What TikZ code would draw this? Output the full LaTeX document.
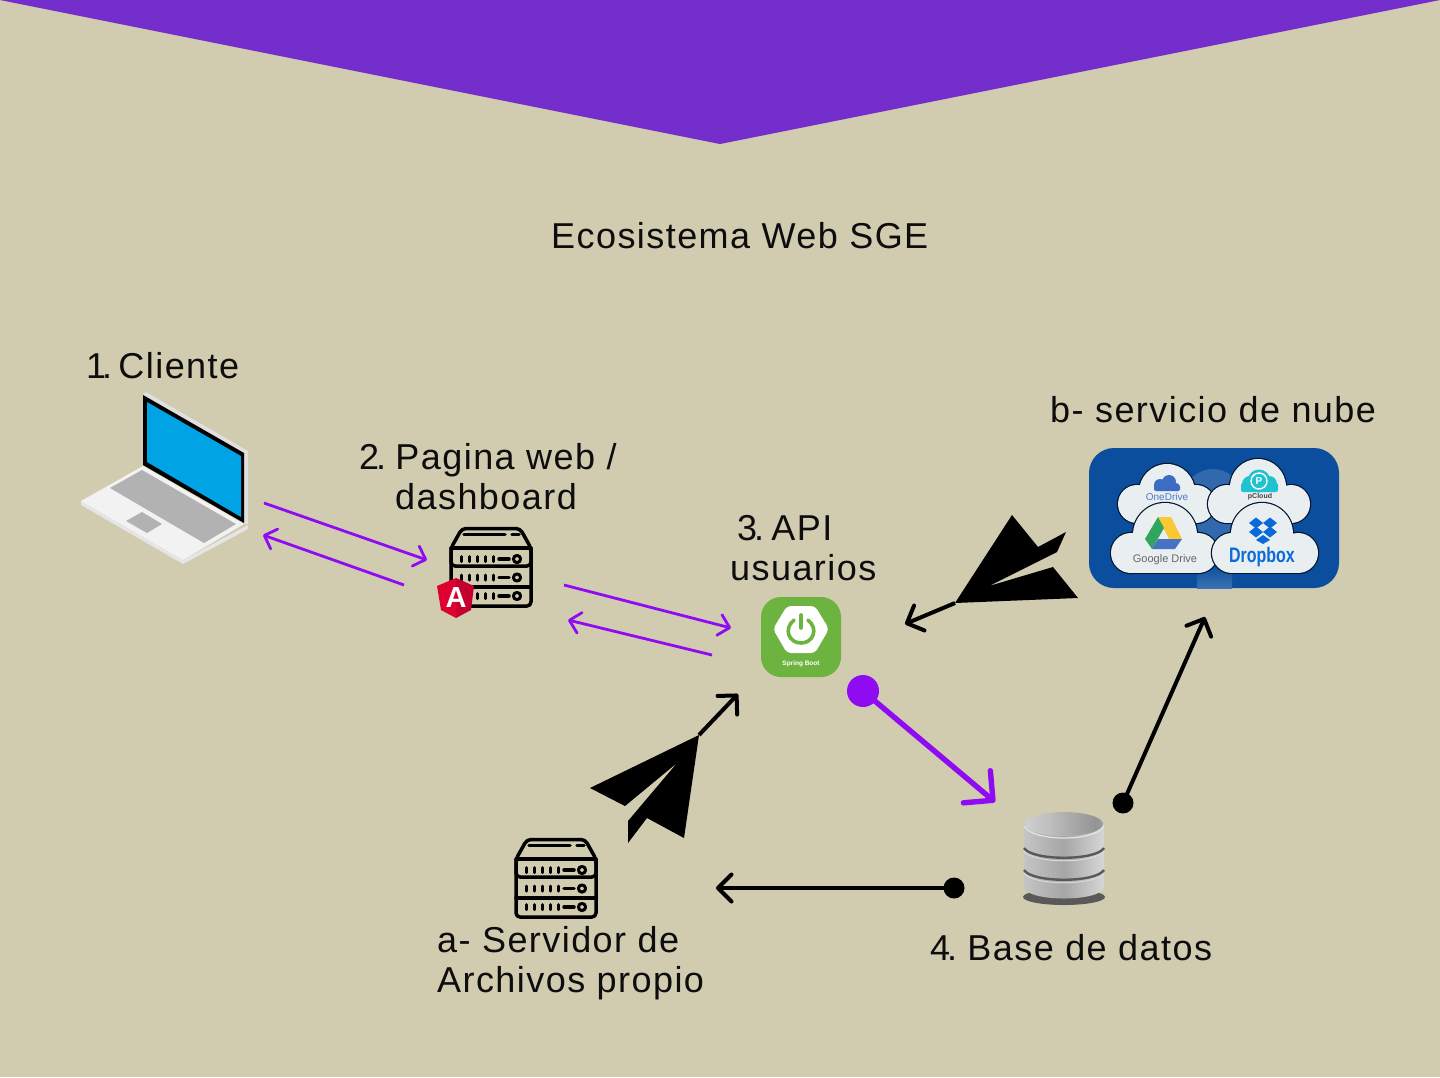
\documentclass[tikz,border=0pt]{standalone}
\usepackage{fontspec}
\usetikzlibrary{arrows.meta}
\setmainfont{Liberation Sans}
\newfontfamily\lab[LetterSpace=4]{Liberation Sans}
\newfontfamily\lsans{Liberation Sans}
\definecolor{bgc}{HTML}{D1CBB0}
\definecolor{topc}{HTML}{742ECC}
\definecolor{arrp}{HTML}{8F0CF2}
\definecolor{cloudw}{HTML}{E9EEF1}
\definecolor{panelb}{HTML}{0B4E9E}
\definecolor{springg}{HTML}{6DB33F}
\definecolor{screenb}{RGB}{0,163,228}
\definecolor{angl}{RGB}{221,0,49}
\definecolor{angr}{RGB}{195,0,47}
\definecolor{odblue}{RGB}{60,108,196}
\definecolor{odtext}{RGB}{78,120,200}
\definecolor{pcteal}{RGB}{31,195,207}
\definecolor{gdy}{RGB}{250,200,50}
\definecolor{gdg}{RGB}{48,165,95}
\definecolor{gdb}{RGB}{70,115,195}
\definecolor{dbx}{RGB}{10,106,216}
\pgfdeclarehorizontalshading{dbshade}{100bp}{color(0bp)=(black!12);color(15bp)=(black!18);color(50bp)=(black!35);color(80bp)=(black!12);color(90bp)=(black!6);color(100bp)=(black!25)}
\pgfdeclarehorizontalshading{dbtop}{100bp}{color(0bp)=(black!8);color(40bp)=(black!25);color(70bp)=(black!42);color(100bp)=(black!20)}
\pgfdeclarearrow{
  name=OpenVee,
  parameters={\the\pgfarrowlength,\the\pgfarrowwidth,\the\pgfarrowlinewidth},
  setup code={
    \pgfarrowssettipend{0.5\pgfarrowlinewidth}
    \pgfarrowssetlineend{-0.5\pgfarrowlinewidth}
    \pgfarrowssetbackend{-\pgfarrowlength}
    \pgfarrowssetvisualbackend{-\pgfarrowlength}
    \pgfarrowssavethe\pgfarrowlength
    \pgfarrowssavethe\pgfarrowwidth
    \pgfarrowssavethe\pgfarrowlinewidth
  },
  drawing code={
    \pgfsetdash{}{0pt}
    \pgfsetlinewidth{\pgfarrowlinewidth}
    \pgfsetroundcap
    \pgfsetroundjoin
    \pgfpathmoveto{\pgfqpoint{-\pgfarrowlength}{0.5\pgfarrowwidth}}
    \pgfpathlineto{\pgfqpoint{0pt}{0pt}}
    \pgfpathlineto{\pgfqpoint{-\pgfarrowlength}{-0.5\pgfarrowwidth}}
    \pgfusepathqstroke
  },
  defaults={length=10pt,width=20pt,line width=2pt}
}
\tikzset{
  x=1pt,y=-1pt,
  label/.style={inner sep=0pt,anchor=base west,font=\lab\fontsize{36}{40}\selectfont,text=black!95},
  thinarrow/.style={draw=arrp,line width=2.8pt,-{OpenVee[length=10.5pt,width=21pt,line width=2.8pt]}},
  thickarrow/.style={draw=arrp,line width=5.4pt,-{OpenVee[length=21pt,width=42pt,line width=5.4pt]}},
  blackarrow/.style={draw=black,line width=4pt,-{OpenVee[length=13.5pt,width=27pt,line width=4pt]}},
  planec/.style={fill=black,draw=none},
  srv/.style={draw=black,line width=3.5pt,line join=round,line cap=round,fill=none},
  dotb/.style={circle,fill=black,inner sep=0pt,minimum size=21pt},
  dotp/.style={circle,fill=arrp,inner sep=0pt,minimum size=32pt},
  cloudfill/.style={fill=cloudw,draw=none},
  cloudedge/.style={draw=black!70!panelb,line width=2.4pt},
  minilab/.style={inner sep=0pt,font=\lsans}
}
\newcommand{\servericon}[2]{%
\begin{scope}[shift={(#1,#2)}]
  \draw[srv,rounded corners=4pt] (0,21) -- (11,1.5) -- (69,1.5) -- (80,21) -- (80,39) -- (0,39) -- cycle;
  \draw[srv,rounded corners=4pt] (0,21) -- (0,79) -- (80,79) -- (80,21);
  \draw[srv] (0,21) -- (80,21) (0,60) -- (80,60);
  \draw[srv] (13,7.5) -- (54,7.5) (61,7.5) -- (68,7.5);
  \foreach \yy in {32,50.5,69}{
    \foreach \xx in {10,18,26,34,42}{\draw[srv,line width=3pt] (\xx,\yy-2.5) -- (\xx,\yy+2.5);}
    \draw[srv] (48,\yy) -- (58,\yy);
    \draw[srv,line width=3pt] (66,\yy) circle (3.6);
  }
\end{scope}}
\newcommand{\cloud}[9]{% top x,y,r ; left x,y,r ; right x,y,r
  \draw[cloudedge] (#1,#2) circle (#3) (#4,#5) circle (#6) (#7,#8) circle (#9);
  \draw[cloudedge] (#4,#5-5) rectangle (#7,#5+#6);
  \fill[cloudfill] (#1,#2) circle (#3) (#4,#5) circle (#6) (#7,#8) circle (#9);
  \fill[cloudfill] (#4,#5-5) rectangle (#7,#5+#6);
}
\begin{document}
\begin{tikzpicture}
\useasboundingbox (0,0) rectangle (1440,1077);
\fill[bgc] (0,0) rectangle (1440,1077);
\fill[topc] (0,0) -- (1440,0) -- (720,144) -- cycle;

\node[label] (title) at (551,248) {Ecosistema Web SGE};
\node[label] (lcliente) at (86,378) {1\hspace{-4pt}.\hspace{-9pt} Cliente};
\node[label] (lweb1) at (359,469) {2\hspace{-3pt}.\hspace{-6pt} Pagina web /};
\node[label] (lweb2) at (395,509) {dashboard};
\node[label] (lapi1) at (737,540) {3\hspace{-3pt}.\hspace{-8pt} API};
\node[label] (lapi2) at (730,580) {usuarios};
\node[label] (lnube) at (1050,422) {b- servicio de nube};
\node[label] (lsrv1) at (437,952) {a- Servidor de};
\node[label] (lsrv2) at (437,992) {Archivos propio};
\node[label] (lbase) at (930,960) {4\hspace{-3pt}.\hspace{-5pt} Base de datos};

% laptop
\fill[black!12] (143,394) -- (146,392) -- (248,451) -- (248,524) -- (244,524) -- cycle;
\fill[black] (143,395) -- (244,453) -- (244,523) -- (143,465) -- cycle;
\fill[screenb] (147,402) -- (241,456) -- (241,517) -- (147,462) -- cycle;
\fill[black!10] (81,501) -- (183,560) -- (248,525) -- (248,529) -- (183,564) -- (81,505) -- cycle;
\fill[black!5] (143,466) -- (244,524) -- (183,560) -- (81,501) -- cycle;
\fill[black!30] (142,470) -- (236,524) -- (204,543) -- (110,488) -- cycle;
\fill[black!30] (142,512) -- (162,524) -- (147,533) -- (126,521) -- cycle;

% servers
\servericon{451}{527}
\servericon{516}{838}
% angular
\fill[angl] (456,578) -- (437,586) -- (441,610) -- (456,618) -- cycle;
\fill[angr] (456,578) -- (474,586) -- (471,610) -- (456,618) -- cycle;
\node[minilab,text=white,font=\lsans\bfseries\fontsize{29}{29}\selectfont] (angularA) at (456,598) {A};

% spring
\fill[springg,rounded corners=20pt] (761,597) rectangle (841,677);
\fill[white,rounded corners=4pt] (773,629) -- (787,606) -- (815,606) -- (829,629) -- (815,653) -- (787,653) -- cycle;
\draw[springg,line width=3.6pt,line cap=round] (794,620) .. controls (783,629) and (789,643) .. (801,643) .. controls (813,643) and (819,629) .. (808,620);
\draw[springg,line width=3.6pt,line cap=round] (801,615) -- (801,628);
\node[minilab,text=white,font=\lsans\bfseries\fontsize{6.5}{7}\selectfont] (springlab) at (801,664) {Spring Boot};

% cloud panel
\fill[panelb,rounded corners=25pt] (1089,448) rectangle (1339,588);
\fill[panelb!85!white] (1213,515) ellipse (36 and 46);
\shade[top color=panelb,bottom color=panelb!80!white] (1197,565) rectangle (1232,588);
\cloud{1167}{492}{28}{1137}{504}{19}{1196}{504}{19}
\cloud{1258}{487}{28}{1227}{504}{19}{1291}{504}{19}
\cloud{1165}{535}{32}{1131}{553}{20}{1198}{553}{20}
\cloud{1262}{534}{31}{1232}{553}{20}{1298}{553}{20}
% onedrive
\fill[odblue] (1160,485) circle (6) (1169,482) circle (7) (1176,487) circle (4);
\fill[odblue,rounded corners=2pt] (1154,485) rectangle (1180,491);
\node[minilab,text=odtext,font=\lsans\fontsize{10}{10}\selectfont] (onedrive) at (1167,497) {OneDrive};
% pcloud
\fill[pcteal] (1259,481) circle (11.5) (1250,484) circle (8) (1269,484) circle (8);
\fill[pcteal,rounded corners=2pt] (1241,483) rectangle (1278,492);
\draw[white,line width=1.4pt] (1259,481) circle (8);
\node[minilab,text=white,font=\lsans\bfseries\fontsize{10}{10}\selectfont] (pcp) at (1259,481) {P};
\node[minilab,text=black!75,font=\lsans\bfseries\fontsize{7}{7}\selectfont] (pcloud) at (1260,497) {pCloud};
% gdrive
\fill[gdy] (1158,517) -- (1171,517) -- (1182,539) -- (1169,539) -- cycle;
\fill[gdg] (1158,517) -- (1145,539) -- (1152,549) -- (1164,528) -- cycle;
\fill[gdb] (1158,539) -- (1182,539) -- (1175,549) -- (1152,549) -- cycle;
\node[minilab,text=black!60,font=\lsans\fontsize{11}{11}\selectfont] (gdrive) at (1165,560) {Google Drive};
% dropbox
\foreach \cx/\cy in {1256/523,1270/523,1256/532,1270/532}{
  \fill[dbx] (\cx-7,\cy) -- (\cx,\cy-5.5) -- (\cx+7,\cy) -- (\cx,\cy+5.5) -- cycle;}
\fill[dbx] (1256,540) -- (1263,535) -- (1270,540) -- (1263,544) -- cycle;
\node[minilab,text=dbx,font=\lsans\bfseries\fontsize{21}{21}\selectfont,xscale=0.76] (dropbox) at (1262,557) {Dropbox};

% database
\fill[black!65] (1064,897) ellipse (41 and 8);
\shade[shading=dbshade] (1024,824) -- (1024,888) .. controls (1030,902) and (1098,902) .. (1104,888) -- (1104,824) -- cycle;
\draw[black!65,line width=2.4pt] (1024,848) .. controls (1032,861) and (1096,861) .. (1104,848);
\draw[black!65,line width=2.4pt] (1024,870) .. controls (1032,883) and (1096,883) .. (1104,870);
\draw[white!85!black,line width=1pt] (1024,851) .. controls (1032,864) and (1096,864) .. (1104,851);
\draw[white!85!black,line width=1pt] (1024,873) .. controls (1032,886) and (1096,886) .. (1104,873);
\draw[white!90!black,line width=1.2pt] (1024,826) .. controls (1032,842) and (1096,842) .. (1104,826);
\shade[shading=dbtop] (1064,824) ellipse (39 and 12);

% paper planes
\coordinate (pa) at (699,735);
\coordinate (pb) at (955,603);
\fill[planec] (pa) -- (590,788) -- (625,806) -- (677,763) -- (628,821) -- (628,843) -- (647,818) -- (684,838) -- cycle;
\fill[planec] (pb) -- (1012,515) -- (1038,547) -- (1066,532) -- (1057,552) -- (989,586) -- (1053,567) -- (1078,598) -- cycle;

% connectors
\coordinate (a1) at (264,503); \coordinate (a2) at (427,560);
\coordinate (b1) at (404,585); \coordinate (b2) at (263,535);
\coordinate (c1) at (564,585); \coordinate (c2) at (731,628);
\coordinate (d1) at (712,655); \coordinate (d2) at (568,620);
\draw[thinarrow] (a1) -- (a2);
\draw[thinarrow] (b1) -- (b2);
\draw[thinarrow] (c1) -- (c2);
\draw[thinarrow] (d1) -- (d2);
\coordinate (patip) at (738,694);
\coordinate (pbtip) at (905,624);
\draw[blackarrow] (pa) -- (patip);
\draw[blackarrow] (pb) -- (pbtip);
\node[dotp] (dotapi) at (863,691) {};
\coordinate (dbtip) at (995,802);
\draw[thickarrow] (dotapi.center) -- (dbtip);
\node[dotb] (dotnube) at (1123,803) {};
\coordinate (nubetip) at (1205,617);
\draw[blackarrow] (dotnube.center) -- (nubetip);
\node[dotb] (dotsrv) at (954,888) {};
\coordinate (srvtip) at (716,888);
\draw[blackarrow] (dotsrv.center) -- (srvtip);
\end{tikzpicture}
\end{document}
